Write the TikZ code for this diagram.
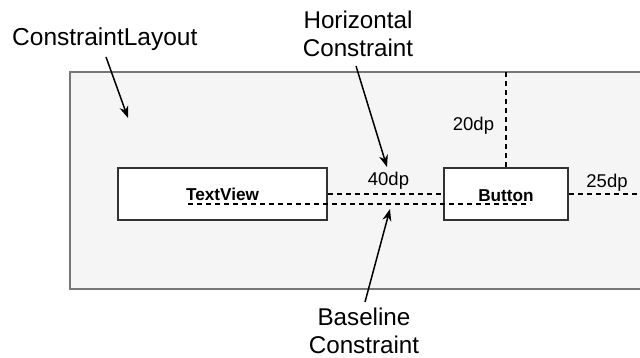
\documentclass[tikz,border=0pt]{standalone}
\usepackage{fontspec}
\setmainfont{Liberation Sans}
\usetikzlibrary{arrows.meta}
\definecolor{layoutfill}{HTML}{F5F5F5}
\definecolor{layoutdraw}{HTML}{777777}
\definecolor{boxdraw}{HTML}{333333}
\begin{document}
\begin{tikzpicture}[x=1pt,y=-1pt,
  bigtext/.style={font=\fontsize{24.2}{28}\selectfont,inner sep=0pt,align=center},
  dptext/.style={font=\fontsize{18.5}{22}\selectfont,inner sep=0pt,anchor=base},
  viewbox/.style={draw=boxdraw,fill=white,line width=2pt,inner sep=0pt},
  boxlabel/.style={font=\bfseries\fontsize{17.2}{20}\selectfont,inner sep=0pt,anchor=base},
  dashline/.style={line width=1.6pt,dash pattern=on 5pt off 4pt},
  callout/.style={line width=1.5pt,-{Stealth[length=12pt,width=9pt]}}]
\useasboundingbox (0,0) rectangle (640,357);
\node[draw=layoutdraw,fill=layoutfill,line width=2pt,minimum width=590pt,minimum height=217pt,inner sep=0pt] (layout) at (365,180.5) {};
\node[viewbox,minimum width=209pt,minimum height=52pt] (tv) at (222.5,194) {};
\node[viewbox,minimum width=124pt,minimum height=52pt] (btn) at (506,194) {};
\node[boxlabel] (tvl) at (222.5,200) {TextView};
\node[boxlabel] (btnl) at (506,201.5) {Button};
% constraints
\coordinate (bl1) at (188,204);
\coordinate (bl2) at (530,204);
\coordinate (topend) at (506,72);
\coordinate (rightend) at (640,194);
\draw[dashline] (tv.east) -- (btn.west);
\draw[dashline] (bl1) -- (bl2);
\draw[dashline] (btn.north) -- (topend);
\draw[dashline] (btn.east) -- (rightend);
\node[dptext] (d40) at (388.5,185) {40dp};
\node[dptext] (d20) at (473.5,130) {20dp};
\node[dptext] (d25) at (607,187) {25dp};
% labels
\node[font=\fontsize{24.5}{28}\selectfont,inner sep=0pt,anchor=base west] (cl) at (12,45) {ConstraintLayout};
\node[bigtext,anchor=north] (hc) at (358,11) {Horizontal\\Constraint};
\node[bigtext,anchor=north] (bc) at (364,307.5) {Baseline\\Constraint};
\coordinate (a1s) at (106,57);
\coordinate (a1e) at (128,118);
\coordinate (a2s) at (356,66);
\coordinate (a2e) at (387,167);
\coordinate (a3s) at (365,302);
\coordinate (a3e) at (390,209);
\draw[callout] (a1s) -- (a1e);
\draw[callout] (a2s) -- (a2e);
\draw[callout] (a3s) -- (a3e);
\end{tikzpicture}
\end{document}
